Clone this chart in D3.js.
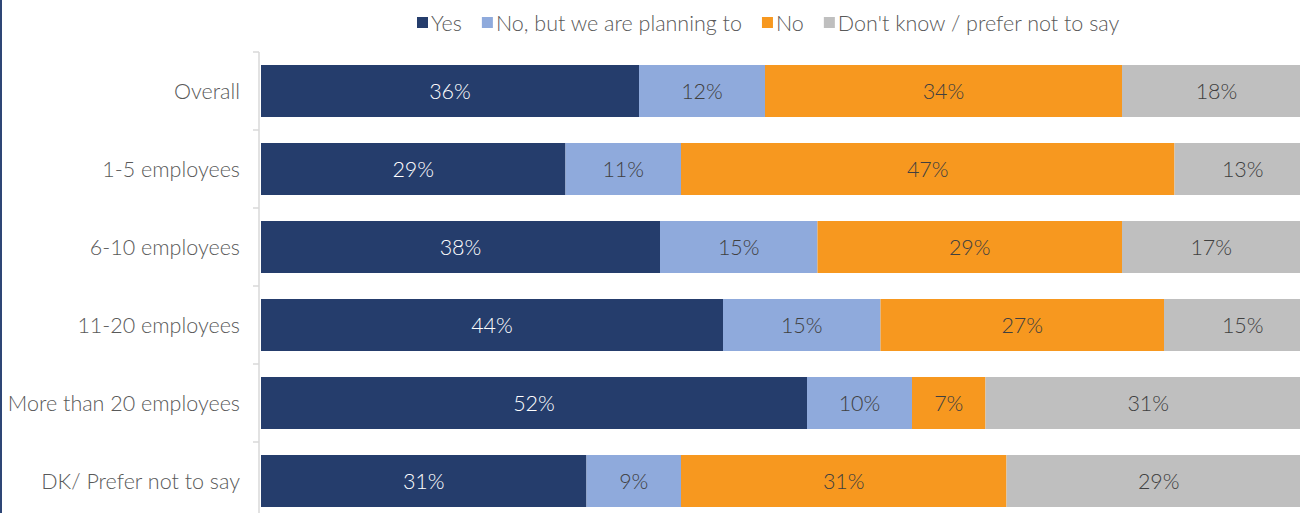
<!DOCTYPE html>
<html>
<head>
<meta charset="utf-8">
<script src="https://cdn.jsdelivr.net/npm/d3@7"></script>
<style>
  html, body { margin: 0; padding: 0; background: #fff; overflow: hidden; }
  svg { display: block; font-family: Lato, "Open Sans", sans-serif; font-weight: 300; }
</style>
</head>
<body>
<svg id="chart" width="1300" height="513"></svg>
<script>
// Company size groups (rows, top to bottom)
const categories = [
  "Overall",
  "1-5 employees",
  "6-10 employees",
  "11-20 employees",
  "More than 20 employees",
  "DK/ Prefer not to say"
];

// Answer options (stack order, left to right)
const seriesNames = ["Yes", "No, but we are planning to", "No", "Don't know / prefer not to say"];

// Percentages per answer, one value per row
const yesValues      = [36, 29, 38, 44, 52, 31];
const planningValues = [12, 11, 15, 15, 10, 9];
const noValues       = [34, 47, 29, 27, 7, 31];
const dontKnowValues = [18, 13, 17, 15, 31, 29];

const colors = ["#253D6C", "#8FAADC", "#F7981F", "#BFBFBF"];
const labelColors = ["#ffffff", "#404040", "#404040", "#404040"];

const rows = categories.map((c, i) => ({
  category: c,
  "Yes": yesValues[i],
  "No, but we are planning to": planningValues[i],
  "No": noValues[i],
  "Don't know / prefer not to say": dontKnowValues[i]
}));

const stacked = d3.stack().keys(seriesNames)(rows);

const svg = d3.select("#chart");
const W = 1300, H = 513;
const FS = 21.5;

// Plot area (extends slightly past the visible right/bottom edges)
const x = d3.scaleLinear().domain([0, 100]).range([261, 1311]);
const y = d3.scaleBand().domain(categories).range([52, 520]).paddingInner(1 / 3).paddingOuter(1 / 6);

// Frame stripe on the left edge
svg.append("rect").attr("x", 0).attr("y", 0).attr("width", 2).attr("height", H).attr("fill", "#2E4676");

// Bars
const layer = svg.append("g").selectAll("g")
  .data(stacked)
  .join("g")
  .attr("fill", (d, i) => colors[i]);

layer.selectAll("rect")
  .data(d => d)
  .join("rect")
  .attr("x", d => x(d[0]))
  .attr("y", d => y(d.data.category))
  .attr("width", d => x(d[1]) - x(d[0]))
  .attr("height", y.bandwidth());

// Value labels centred in each segment
stacked.forEach((s, si) => {
  svg.append("g").selectAll("text")
    .data(s)
    .join("text")
    .attr("x", d => (x(d[0]) + x(d[1])) / 2)
    .attr("y", d => y(d.data.category) + y.bandwidth() / 2)
    .attr("dy", "0.35em")
    .attr("text-anchor", "middle")
    .attr("font-size", FS)
    .attr("fill", labelColors[si])
    .text(d => (d[1] - d[0]) + "%");
});

// Category axis with ticks on band boundaries
const axisX = 259;
const axisG = svg.append("g");
axisG.append("line")
  .attr("x1", axisX).attr("x2", axisX)
  .attr("y1", y.range()[0]).attr("y2", y.range()[1])
  .attr("stroke", "#D9D9D9").attr("stroke-width", 1.5);

const boundaries = categories.map(c => y(c) - y.step() * y.paddingInner() / 2)
  .concat([y.range()[1]]);
axisG.selectAll("line.tick")
  .data(boundaries)
  .join("line")
  .attr("class", "tick")
  .attr("x1", axisX - 6).attr("x2", axisX)
  .attr("y1", d => d).attr("y2", d => d)
  .attr("stroke", "#D9D9D9").attr("stroke-width", 1.5);

axisG.selectAll("text")
  .data(categories)
  .join("text")
  .attr("x", 240)
  .attr("y", d => y(d) + y.bandwidth() / 2)
  .attr("dy", "0.35em")
  .attr("text-anchor", "end")
  .attr("font-size", FS)
  .attr("fill", "#595959")
  .text(d => d);

// Legend
const legend = svg.append("g");
let lx = 417;
seriesNames.forEach((name, i) => {
  legend.append("rect")
    .attr("x", lx).attr("y", 17)
    .attr("width", 11).attr("height", 11)
    .attr("fill", colors[i]);
  const t = legend.append("text")
    .attr("x", lx + 14)
    .attr("y", 23)
    .attr("dy", "0.35em")
    .attr("font-size", FS)
    .attr("fill", "#595959")
    .text(name);
  lx += 14 + t.node().getComputedTextLength() + 20;
});
</script>
</body>
</html>
